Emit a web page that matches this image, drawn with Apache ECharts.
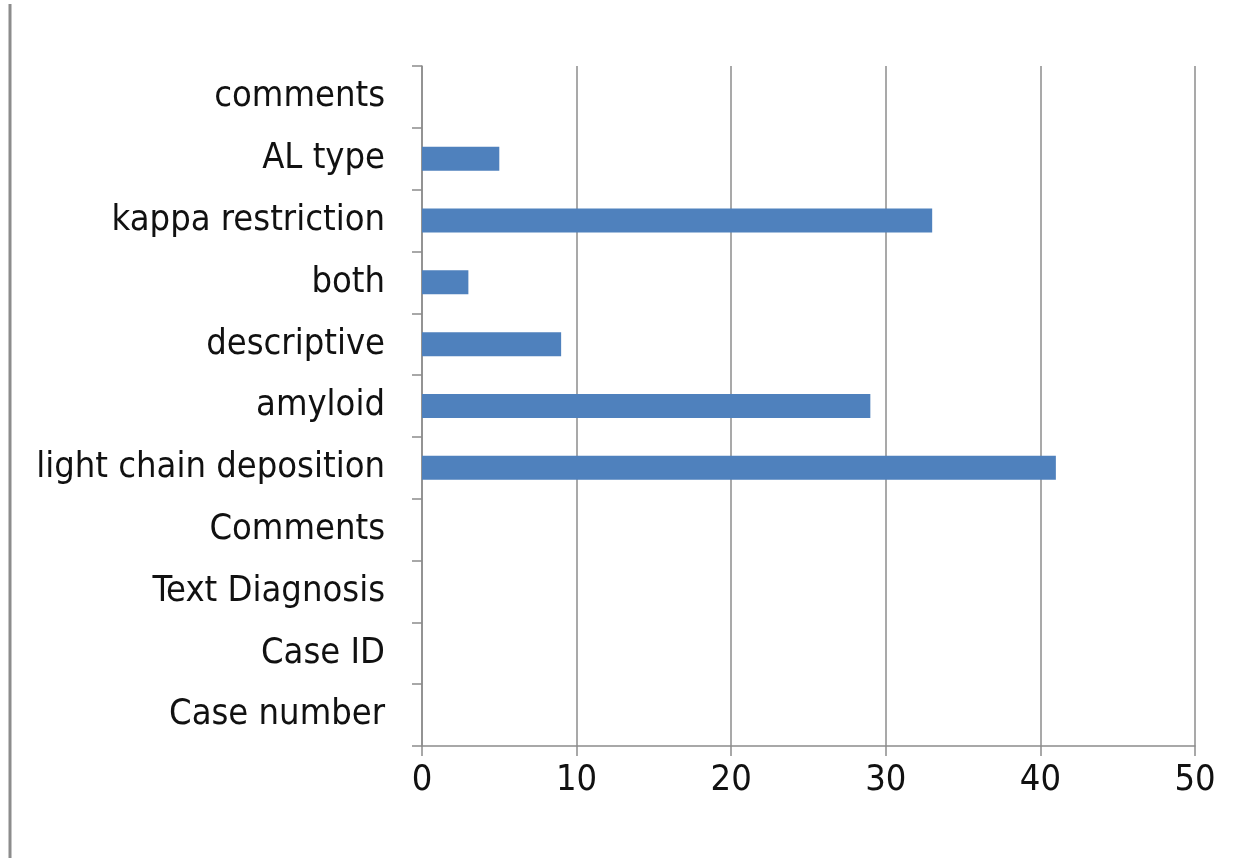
<!DOCTYPE html>
<html><head><meta charset="utf-8">
<script src="https://cdn.jsdelivr.net/npm/echarts@6/dist/echarts.min.js"></script>
<style>html,body{margin:0;padding:0;background:#fff}#c{width:1253px;height:858px}</style>
</head><body><div id="c"></div>
<script>
const categories = ["Case number","Case ID","Text Diagnosis","Comments","light chain deposition","amyloid","descriptive","both","kappa restriction","AL type","comments"];
const values = [null,null,null,null,41,29,9,3,33,5,null];
const xTicks = [0,10,20,30,40,50];
const FONT = "'Liberation Sans Narrow','DejaVu Sans Condensed','Open Sans',sans-serif";
const chart = echarts.init(document.getElementById('c'), null, {renderer:'canvas'});
chart.setOption({
  animation:false,
  graphic:[{type:'line',shape:{x1:10,y1:4,x2:10,y2:858},style:{stroke:'#8c8c8c',lineWidth:3}}],
  grid:{left:422,right:58,top:66,bottom:112,containLabel:false},
  xAxis:{type:'value',min:xTicks[0],max:xTicks[xTicks.length-1],interval:10,
    axisLine:{show:true,lineStyle:{color:'#8c8c8c',width:1.5}},
    axisTick:{show:true,length:10,lineStyle:{color:'#8c8c8c',width:1.5}},
    splitLine:{show:true,lineStyle:{color:'#8c8c8c',width:1.5}},
    axisLabel:{color:'#111',fontSize:36,fontFamily:FONT,margin:17}},
  yAxis:{type:'category',data:categories,
    axisLine:{show:true,lineStyle:{color:'#8c8c8c',width:1.5}},
    axisTick:{show:true,length:10,alignWithLabel:false,lineStyle:{color:'#8c8c8c',width:1.5}},
    axisLabel:{color:'#111',fontSize:36,fontFamily:FONT,margin:37}},
  series:[{type:'bar',data:values,barWidth:24,itemStyle:{color:'#4f81bd'}}]
});
</script></body></html>
